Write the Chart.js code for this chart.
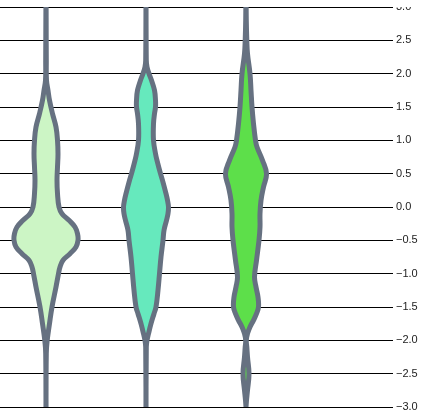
<!DOCTYPE html>
<html>
<head>
<meta charset="utf-8">
<script src="https://cdn.jsdelivr.net/npm/chart.js@4"></script>
<style>
  html, body { margin: 0; padding: 0; background: #fff; }
  #wrap { width: 428px; height: 420px; position: relative; }
</style>
</head>
<body>
<div id="wrap"><canvas id="c"></canvas></div>
<script>
// Violin centers (category positions)
const groups = [0, 1, 2];

// Violin 1: y levels and half-widths (in x units)
const y1 = [3.3, 2.2, 1.9, 1.75, 1.6, 1.4, 1.2, 1.0, 0.8, 0.6, 0.4, 0.2, 0.0, -0.1, -0.2, -0.3, -0.4, -0.5, -0.6, -0.7, -0.8, -0.9, -1.0, -1.2, -1.5, -1.75, -2.0, -2.2, -3.3];
const w1 = [0, 0.003, 0.005, 0.02, 0.035, 0.065, 0.10, 0.115, 0.12, 0.115, 0.11, 0.115, 0.13, 0.16, 0.23, 0.29, 0.315, 0.32, 0.30, 0.24, 0.17, 0.14, 0.125, 0.10, 0.06, 0.035, 0.012, 0.003, 0];

// Violin 2
const y2 = [3.3, 2.2, 2.1, 2.0, 1.9, 1.75, 1.6, 1.5, 1.4, 1.25, 1.0, 0.8, 0.7, 0.5, 0.4, 0.2, 0.1, 0.0, -0.1, -0.2, -0.35, -0.5, -0.75, -1.0, -1.25, -1.5, -1.6, -1.75, -1.9, -2.0, -2.1, -3.3];
const w2 = [0, 0.003, 0.01, 0.03, 0.055, 0.085, 0.095, 0.095, 0.085, 0.075, 0.075, 0.095, 0.11, 0.145, 0.165, 0.20, 0.215, 0.225, 0.22, 0.205, 0.18, 0.17, 0.15, 0.135, 0.12, 0.10, 0.08, 0.05, 0.025, 0.01, 0.003, 0];

// Violin 3
const y3 = [3.3, 2.8, 2.5, 2.3, 2.0, 1.75, 1.5, 1.25, 1.0, 0.9, 0.7, 0.5, 0.3, 0.1, -0.1, -0.3, -0.5, -0.8, -1.05, -1.2, -1.35, -1.5, -1.6, -1.7, -1.8, -1.9, -2.0, -2.1, -2.25, -2.5, -2.75, -2.9, -3.0];
const w3 = [0, 0.003, 0.008, 0.015, 0.04, 0.05, 0.06, 0.075, 0.095, 0.11, 0.165, 0.205, 0.175, 0.15, 0.14, 0.14, 0.13, 0.105, 0.085, 0.10, 0.12, 0.125, 0.105, 0.075, 0.04, 0.015, 0.003, 0.008, 0.015, 0.03, 0.015, 0.005, 0];

// Y tick values
const yTicks = [-3.0, -2.5, -2.0, -1.5, -1.0, -0.5, 0.0, 0.5, 1.0, 1.5, 2.0, 2.5, 3.0];

const fills = ['#ccf5c5', '#66e9bd', '#5ddf4a'];
const outline = '#667181';

function violinPoints(center, ys, ws) {
  const pts = [];
  // right side, bottom to top
  for (let i = ys.length - 1; i >= 0; i--) pts.push({ x: center + ws[i], y: ys[i] });
  // left side, top to bottom
  for (let i = 1; i < ys.length; i++) pts.push({ x: center - ws[i], y: ys[i] });
  return pts;
}

const sets = [[y1, w1], [y2, w2], [y3, w3]];
const datasets = sets.map((s, i) => ({
  data: violinPoints(groups[i], s[0], s[1]),
  showLine: true,
  fill: 'shape',
  backgroundColor: fills[i],
  borderColor: outline,
  borderWidth: 5,
  pointRadius: 0,
  tension: 0.4,
  clip: 0,
  borderJoinStyle: 'round',
  borderCapStyle: 'round'
}));

const topClip = {
  id: 'topClip',
  afterDraw(chart) {
    const ctx = chart.ctx, a = chart.chartArea;
    ctx.save();
    ctx.clearRect(a.right + 9, 0, chart.width, a.top - 0.5);
    ctx.restore();
  }
};

new Chart(document.getElementById('c'), {
  type: 'scatter',
  data: { datasets },
  plugins: [topClip],
  options: {
    responsive: true,
    maintainAspectRatio: false,
    animation: false,
    layout: { padding: { top: 7, bottom: 13, left: 0, right: 0 } },
    plugins: { legend: { display: false }, tooltip: { enabled: false } },
    scales: {
      x: {
        type: 'linear',
        display: false,
        min: -0.46,
        max: 3.39
      },
      y: {
        type: 'linear',
        position: 'right',
        min: -3,
        max: 3,
        afterBuildTicks(scale) { scale.ticks = yTicks.map(v => ({ value: v })); },
        afterFit(scale) { scale.width = 43; scale.paddingTop = 0; scale.paddingBottom = 0; },
        border: { display: false },
        grid: { color: '#000', lineWidth: 1, drawTicks: true, tickLength: 8 },
        ticks: {
          padding: 3,
          color: '#222',
          font: { family: '"Liberation Sans", Arial, sans-serif', size: 11, lineHeight: 1 },
          callback: v => v.toFixed(1).replace('-', '\u2212')
        }
      }
    }
  }
});
</script>
</body>
</html>
